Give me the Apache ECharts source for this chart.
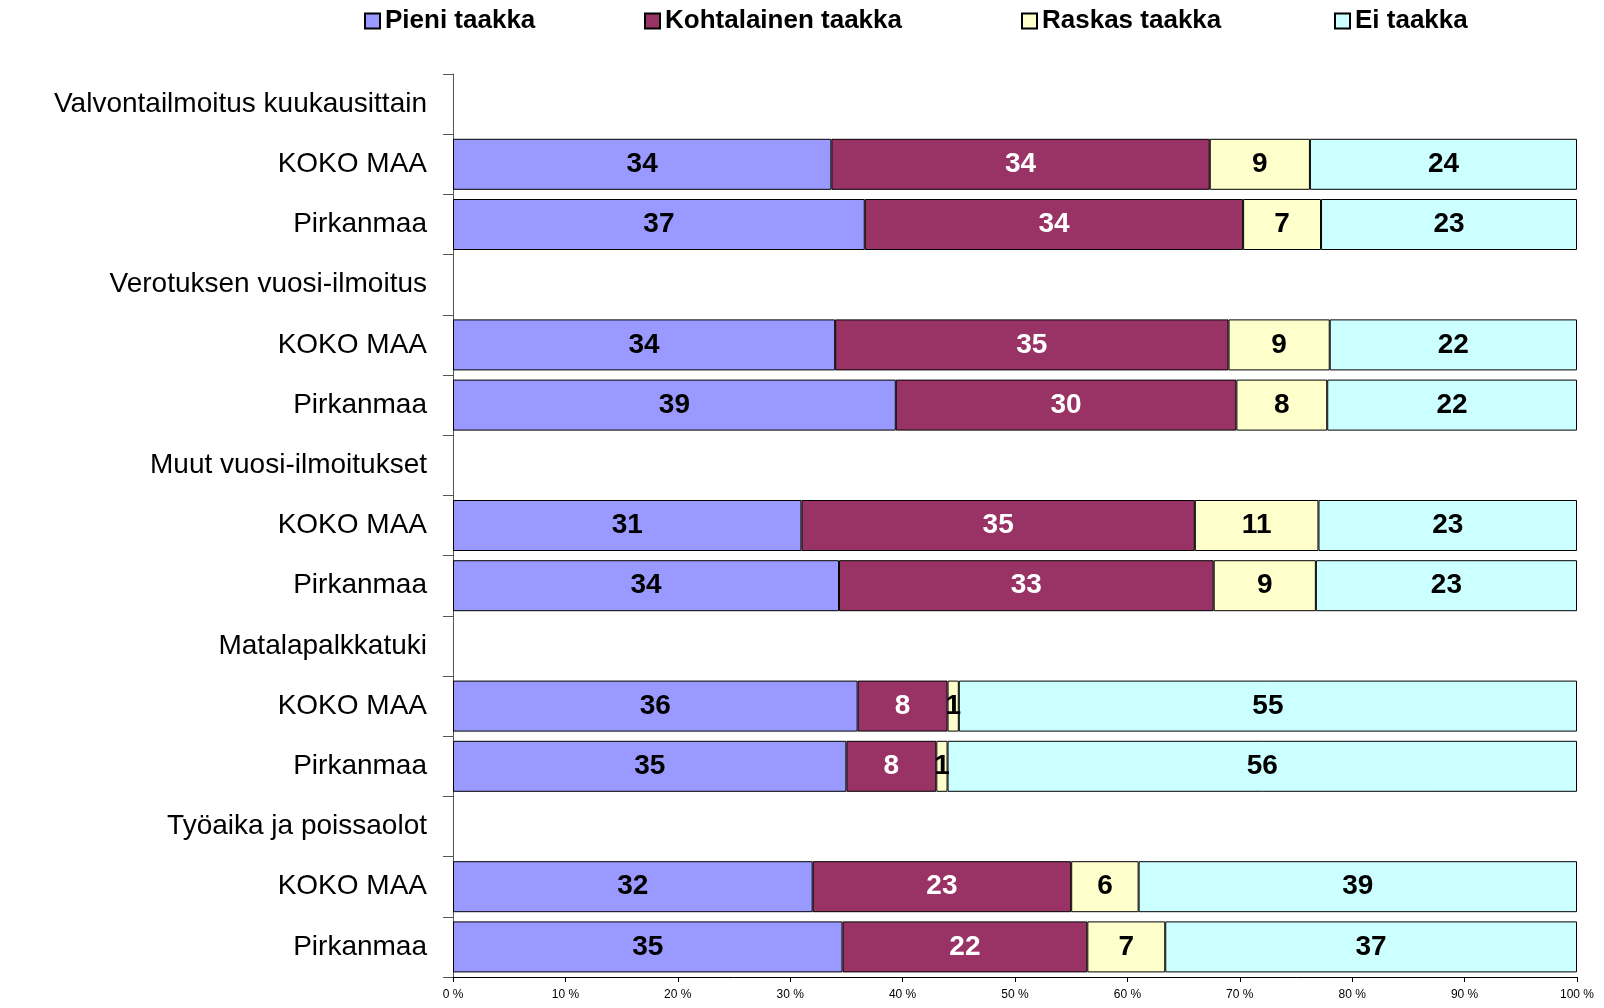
<!DOCTYPE html>
<html>
<head>
<meta charset="utf-8">
<script src="https://cdn.jsdelivr.net/npm/echarts@6/dist/echarts.min.js"></script>
<style>
	html, body { margin: 0; padding: 0; background: #fff; }
	#chart { width: 1604px; height: 1008px; }
</style>
</head>
<body>
<div id="chart"></div>
<script>
// rivit ylhäältä alas (otsikkorivit ilman palkkeja)
var categories = [
	'Valvontailmoitus kuukausittain', 'KOKO MAA', 'Pirkanmaa',
	'Verotuksen vuosi-ilmoitus', 'KOKO MAA', 'Pirkanmaa',
	'Muut vuosi-ilmoitukset', 'KOKO MAA', 'Pirkanmaa',
	'Matalapalkkatuki', 'KOKO MAA', 'Pirkanmaa',
	'Työaika ja poissaolot', 'KOKO MAA', 'Pirkanmaa'
];
var seriesNames = ['Pieni taakka', 'Kohtalainen taakka', 'Raskas taakka', 'Ei taakka'];

var pieni       = [null, 34, 37, null, 34, 39, null, 31, 34, null, 36, 35, null, 32, 35];
var kohtalainen = [null, 34, 34, null, 35, 30, null, 35, 33, null, 8, 8, null, 23, 22];
var raskas      = [null, 9, 7, null, 9, 8, null, 11, 9, null, 1, 1, null, 6, 7];
var eiTaakka    = [null, 24, 23, null, 22, 22, null, 23, 23, null, 55, 56, null, 39, 37];

var xTicks = [0, 10, 20, 30, 40, 50, 60, 70, 80, 90, 100];

var colors = ['#9999FF', '#993366', '#FFFFCC', '#CCFFFF'];
var labelColors = ['#000', '#fff', '#000', '#000'];
var legendLeft = [364, 644, 1021, 1334];

var raw = [pieni, kohtalainen, raskas, eiTaakka];

// 100 % pinottu: jaetaan rivin summalla
var totals = categories.map(function (c, i) {
	var s = 0;
	raw.forEach(function (arr) { s += arr[i] || 0; });
	return s;
});

var series = raw.map(function (arr, k) {
	return {
		name: seriesNames[k],
		type: 'bar',
		stack: 'all',
		barWidth: 51,
		data: arr.map(function (v, i) {
			return v == null ? null : { value: v / totals[i] * 100, raw: v };
		}),
		itemStyle: { color: colors[k], borderColor: '#000', borderWidth: 1 },
		label: {
			show: true,
			position: 'inside',
			color: labelColors[k],
			fontFamily: 'Liberation Sans',
			fontWeight: 'bold',
			fontSize: 28,
			formatter: function (p) { return p.data ? p.data.raw : ''; }
		}
	};
});

var legends = seriesNames.map(function (n, k) {
	return {
		data: [n],
		left: legendLeft[k],
		top: 8,
		icon: 'rect',
		itemWidth: 15,
		itemHeight: 15,
		itemGap: 0,
		padding: 0,
		textStyle: { fontFamily: 'Liberation Sans', fontWeight: 'bold', fontSize: 26, color: '#000' }
	};
});

var myChart = echarts.init(document.getElementById('chart'));
myChart.setOption({
	animation: false,
	legend: legends,
	grid: { left: 453, right: 27, top: 74, bottom: 31 },
	xAxis: {
		type: 'value',
		min: xTicks[0],
		max: xTicks[xTicks.length - 1],
		interval: xTicks[1] - xTicks[0],
		splitLine: { show: false },
		axisLine: { show: true, lineStyle: { color: '#000' } },
		axisTick: { show: true, length: 5, lineStyle: { color: '#000' } },
		axisLabel: {
			formatter: '{value} %',
			fontFamily: 'Liberation Sans',
			fontSize: 12,
			color: '#000',
			margin: 12
		}
	},
	yAxis: {
		type: 'category',
		inverse: true,
		data: categories,
		axisLine: { lineStyle: { color: '#555' } },
		axisTick: { show: true, length: 10, lineStyle: { color: '#555' } },
		axisLabel: {
			fontFamily: 'Liberation Sans',
			fontSize: 28,
			color: '#000',
			margin: 26
		}
	},
	series: series
});
</script>
</body>
</html>
